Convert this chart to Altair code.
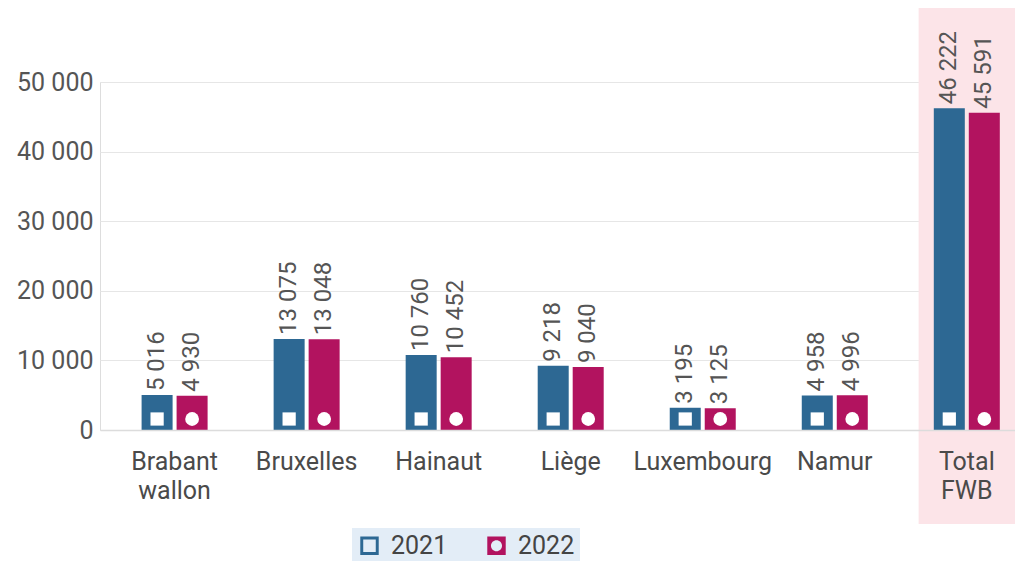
import altair as alt
import pandas as pd

regions = ["Brabant wallon", "Bruxelles", "Hainaut", "Liège", "Luxembourg", "Namur", "Total FWB"]
v2021 = [5016, 13075, 10760, 9218, 3195, 4958, 46222]
v2022 = [4930, 13048, 10452, 9040, 3125, 4996, 45591]
years = ["2021", "2022"]
colors = ["#2d6893", "#b2135f"]
y_ticks = [0, 10000, 20000, 30000, 40000, 50000]
highlight = ["Total FWB"]

rows = []
for r, a, b in zip(regions, v2021, v2022):
    for yr, v in zip(years, [a, b]):
        rows.append({"region": r, "year": yr, "value": v,
                     "label": f"{v:,}".replace(",", " ")})
df = pd.DataFrame(rows)
hl = pd.DataFrame({"region": highlight})

FONT = "Roboto"
W, H = 915, 348

xscale = alt.Scale(domain=regions, paddingInner=0.27, paddingOuter=0.1, align=1)
xoff = alt.XOffset("year:N", scale=alt.Scale(domain=years, paddingInner=0.114, paddingOuter=0.434))
yscale = alt.Scale(domain=[0, 50000], nice=False)
cscale = alt.Scale(domain=years, range=colors)

sq_hole = "M-1,-1H1V1H-1Z M-0.68,-0.68V0.68H0.68V-0.68Z"
circ_hole = "M-1,-1H1V1H-1Z M0.6,0A0.6,0.6 0 1,0 -0.6,0A0.6,0.6 0 1,0 0.6,0Z"

x_axis = alt.Axis(title=None, labelAngle=0, labelAlign="center", labelBaseline="top",
                  ticks=False, domain=True,
                  domainColor="#dcdcdc", domainWidth=1.5,
                  labelFontSize=25, labelColor="#4a4a4a", labelFont=FONT,
                  labelPadding=19, labelLineHeight=29,
                  labelExpr="split(datum.label, ' ')")
x_enc = alt.X("region:N", scale=xscale, sort=regions, axis=x_axis)

leg = alt.Legend(title=None, orient="none", legendX=252, legendY=446,
                 direction="horizontal", labelFontSize=25,
                 labelColor="#444444", labelFont=FONT,
                 symbolSize=340, symbolStrokeWidth=0, symbolOpacity=1,
                 fillColor="#e3edf7", padding=5,
                 columnPadding=36, labelOffset=9)

band = alt.Chart(hl).mark_rect(color="#fce4e8", opacity=1).encode(
    x=x_enc,
    y=alt.value(-74), y2=alt.value(442))

legend_pts = alt.Chart(df).mark_point(filled=True, size=60, opacity=1, yOffset=-11).encode(
    x=x_enc, xOffset=xoff,
    y=alt.datum(0, scale=yscale),
    color=alt.Color("year:N", scale=cscale, legend=leg),
    shape=alt.Shape("year:N", scale=alt.Scale(domain=years, range=[sq_hole, circ_hole]),
                    legend=leg),
)

bars = alt.Chart(df).mark_bar(opacity=1).encode(
    x=x_enc, xOffset=xoff,
    y=alt.Y("value:Q", scale=yscale, stack=None,
            axis=alt.Axis(title=None, values=y_ticks, grid=True, gridColor="#e6e6e6",
                          domain=False, ticks=False, labelFontSize=25,
                          labelColor="#555555", labelFont=FONT, labelPadding=7,
                          labelExpr="replace(format(datum.value, ','), ',', ' ')")),
    color=alt.Color("year:N", scale=cscale, legend=None),
)

sq_marks = alt.Chart(df).transform_filter(alt.datum.year == "2021").mark_square(
    color="white", size=175, opacity=1, yOffset=-11).encode(
    x=x_enc, xOffset=xoff, y=alt.datum(0, scale=yscale))

ci_marks = alt.Chart(df).transform_filter(alt.datum.year == "2022").mark_circle(
    color="white", size=190, opacity=1, yOffset=-11).encode(
    x=x_enc, xOffset=xoff, y=alt.datum(0, scale=yscale))

labels = alt.Chart(df).mark_text(angle=270, align="left", baseline="middle", dx=4,
                                 fontSize=24, font=FONT, color="#555555").encode(
    x=x_enc, xOffset=xoff,
    y=alt.Y("value:Q", scale=yscale),
    text="label:N")

chart = alt.layer(band, legend_pts, bars, sq_marks, ci_marks, labels).properties(
    width=W, height=H,
    autosize=alt.AutoSizeParams(type="none"),
    padding={"left": 92, "top": 74, "right": 0, "bottom": 131},
).configure_view(stroke=None).configure(background="white")

chart.save("out.html", embed_options={"renderer": "svg", "actions": False})
